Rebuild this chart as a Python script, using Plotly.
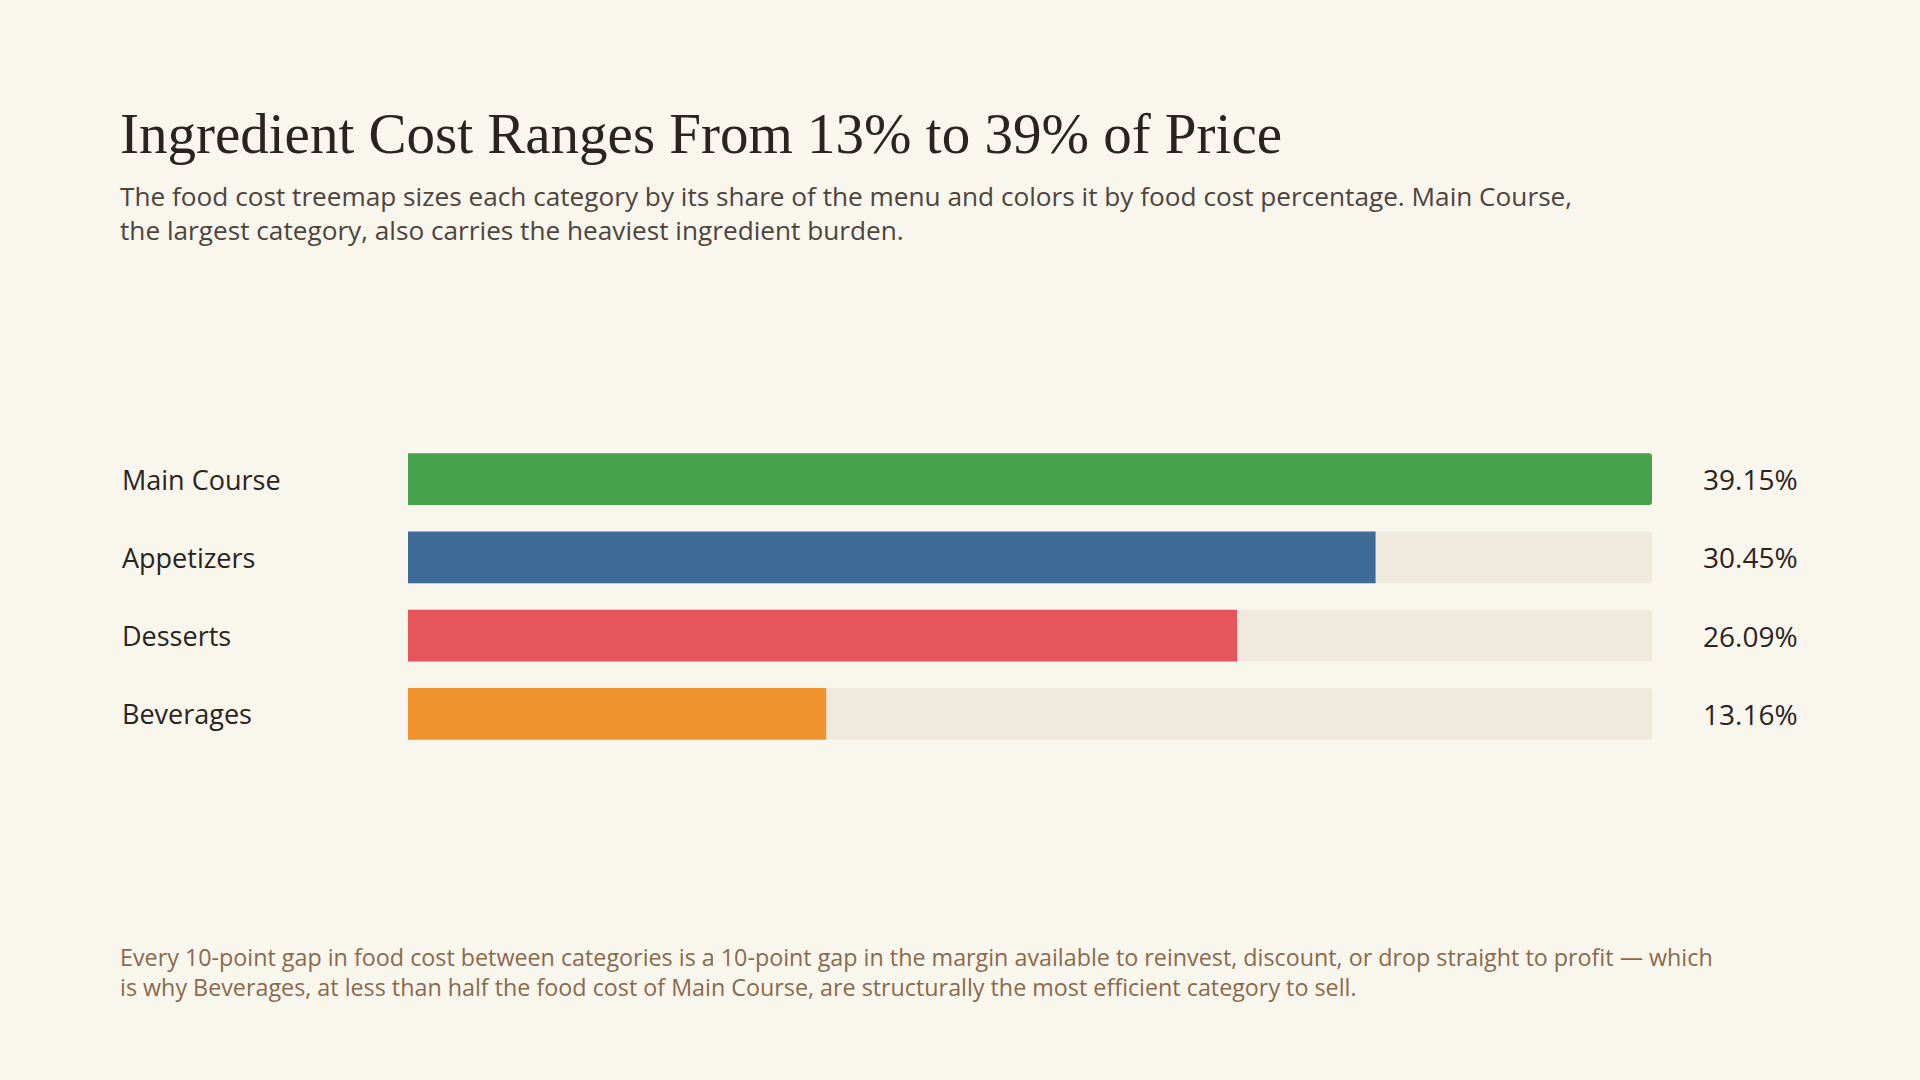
import plotly.graph_objects as go

categories = ["Main Course", "Appetizers", "Desserts", "Beverages"]
food_cost_pct = [39.15, 30.45, 26.09, 13.16]
value_labels = ["39.15%", "30.45%", "26.09%", "13.16%"]
bar_colors = ["#43a24a", "#3f6b98", "#e6545c", "#f0922e"]

title_text = "Ingredient Cost Ranges From 13% to 39% of Price"
subtitle_text = ("The food cost treemap sizes each category by its share of the menu and colors it by food cost percentage. Main Course,<br>"
                 "the largest category, also carries the heaviest ingredient burden.")
footer_text = ("Every 10-point gap in food cost between categories is a 10-point gap in the margin available to reinvest, discount, or drop straight to profit \u2014 which<br>"
               "is why Beverages, at less than half the food cost of Main Course, are structurally the most efficient category to sell.")

W, H = 1920, 1080
BG = "#f9f6ee"
TRACK = "#efe9de"
BODY_FONT = "'Open Sans', 'Noto Sans', sans-serif"
TITLE_FONT = "'Liberation Serif', serif"

xmax = max(food_cost_pct)

fig = go.Figure()
fig.add_trace(go.Bar(
    y=categories, x=[xmax] * len(categories), orientation="h",
    marker=dict(color=TRACK, line=dict(width=0), cornerradius=3),
    width=0.66, hoverinfo="skip", showlegend=False,
))
fig.add_trace(go.Bar(
    y=categories, x=food_cost_pct, orientation="h",
    marker=dict(color=bar_colors, line=dict(width=0), cornerradius=3),
    width=0.66, showlegend=False,
))

x0, x1 = 408 / W, 1652 / W
ytop, ybot = 440, 753
fig.update_layout(
    width=W, height=H,
    paper_bgcolor=BG, plot_bgcolor=BG,
    margin=dict(l=0, r=0, t=0, b=0),
    barmode="overlay",
    xaxis=dict(domain=[x0, x1], range=[0, xmax], visible=False, fixedrange=True),
    yaxis=dict(domain=[1 - ybot / H, 1 - ytop / H], categoryorder="array",
               categoryarray=categories[::-1], range=[-0.5, len(categories) - 0.5],
               visible=False, fixedrange=True),
)

for cat, lab in zip(categories, value_labels):
    fig.add_annotation(x=120 / W, xref="paper", y=cat, yref="y", text=cat,
                       showarrow=False, xanchor="left", yanchor="middle",
                       font=dict(family=BODY_FONT, size=27, color="#2a2420"))
    fig.add_annotation(x=1800 / W, xref="paper", y=cat, yref="y", text=lab,
                       showarrow=False, xanchor="right", yanchor="middle",
                       font=dict(family=BODY_FONT, size=28, color="#2a2420"))

fig.add_annotation(x=118 / W, xref="paper", y=1 - 100 / H, yref="paper", text=title_text,
                   showarrow=False, xanchor="left", yanchor="top",
                   font=dict(family=TITLE_FONT, size=57, color="#2a2420"))
fig.add_annotation(x=118 / W, xref="paper", y=1 - 176 / H, yref="paper", text=subtitle_text,
                   showarrow=False, xanchor="left", yanchor="top", align="left",
                   font=dict(family=BODY_FONT, size=26.2, color="#4d443c"))
fig.add_annotation(x=118 / W, xref="paper", y=1 - 939 / H, yref="paper", text=footer_text,
                   showarrow=False, xanchor="left", yanchor="top", align="left",
                   font=dict(family=BODY_FONT, size=23.3, color="#8a6a4c"))

fig.write_html("out.html", config={"displayModeBar": False},
               post_script="document.body.style.margin='0';document.body.style.background='" + BG + "';")
